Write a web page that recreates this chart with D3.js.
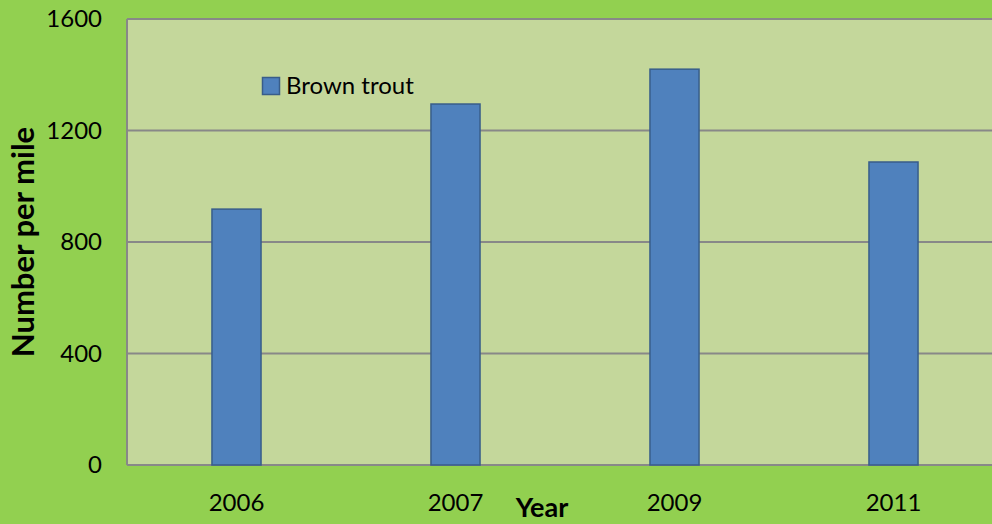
<!DOCTYPE html>
<html>
<head>
<meta charset="utf-8">
<script src="https://cdn.jsdelivr.net/npm/d3@7"></script>
<style>
  html, body { margin: 0; padding: 0; background: #92D050; overflow: hidden; }
  svg { display: block; font-family: Lato, "Open Sans", sans-serif; }
</style>
</head>
<body>
<svg id="chart" width="992" height="524"></svg>
<script>
const years = ["2006", "2007", "2009", "2011"];
const brownTrout = [918, 1295, 1420, 1087];
const yTicks = [0, 400, 800, 1200, 1600];
const seriesName = "Brown trout";

const svg = d3.select("#chart");
const margin = {top: 19, left: 127};
const width = 876;
const height = 446;
const g = svg.append("g").attr("transform", `translate(${margin.left},${margin.top})`);

const xScale = d3.scaleBand().domain(years).range([0, width])
    .paddingInner(0.776).paddingOuter(0.388);
const yScale = d3.scaleLinear().domain([0, 1600]).range([height, 0]);

// plot area
g.append("rect")
    .attr("width", width).attr("height", height)
    .attr("fill", "#C4D79B");

// gridlines
g.selectAll(".grid").data(yTicks).enter().append("line")
    .attr("class", "grid")
    .attr("x1", 0).attr("x2", width)
    .attr("y1", d => yScale(d)).attr("y2", d => yScale(d))
    .attr("stroke", "#888888").attr("stroke-width", 2);

// left border
g.append("line")
    .attr("x1", 0).attr("x2", 0).attr("y1", 0).attr("y2", height)
    .attr("stroke", "#888888").attr("stroke-width", 2);

// bars
g.selectAll(".bar").data(brownTrout).enter().append("rect")
    .attr("class", "bar")
    .attr("x", (d, i) => xScale(years[i]))
    .attr("y", d => yScale(d))
    .attr("width", xScale.bandwidth())
    .attr("height", d => height - yScale(d))
    .attr("fill", "#4F81BD")
    .attr("stroke", "#385D8A").attr("stroke-width", 1.5);

// y axis labels
const yAxis = g.append("g")
    .call(d3.axisLeft(yScale).tickValues(yTicks).tickFormat(d3.format("d")).tickSize(0).tickPadding(25));
yAxis.select(".domain").remove();
yAxis.selectAll("text").attr("font-size", 24).attr("fill", "#000").attr("font-family", "Lato");

// x axis labels
const xAxis = g.append("g").attr("transform", `translate(0,${height})`)
    .call(d3.axisBottom(xScale).tickSize(0));
xAxis.select(".domain").remove();
xAxis.selectAll("text")
    .attr("y", 46).attr("dy", null)
    .attr("font-size", 24).attr("fill", "#000").attr("font-family", "Lato");

// axis titles
svg.append("text")
    .attr("transform", "translate(34,242) rotate(-90)")
    .attr("text-anchor", "middle")
    .attr("font-size", 31).attr("font-weight", "bold")
    .text("Number per mile");

svg.append("text")
    .attr("x", 542).attr("y", 517)
    .attr("text-anchor", "middle")
    .attr("font-size", 27).attr("font-weight", "bold")
    .text("Year");

// legend
const legend = svg.append("g").attr("transform", "translate(262,77)");
legend.append("rect")
    .attr("x", 0.5).attr("y", 0.5).attr("width", 17).attr("height", 17)
    .attr("fill", "#4F81BD").attr("stroke", "#385D8A").attr("stroke-width", 1.5);
legend.append("text")
    .attr("x", 24).attr("y", 17)
    .attr("font-size", 24)
    .text(seriesName);
</script>
</body>
</html>
